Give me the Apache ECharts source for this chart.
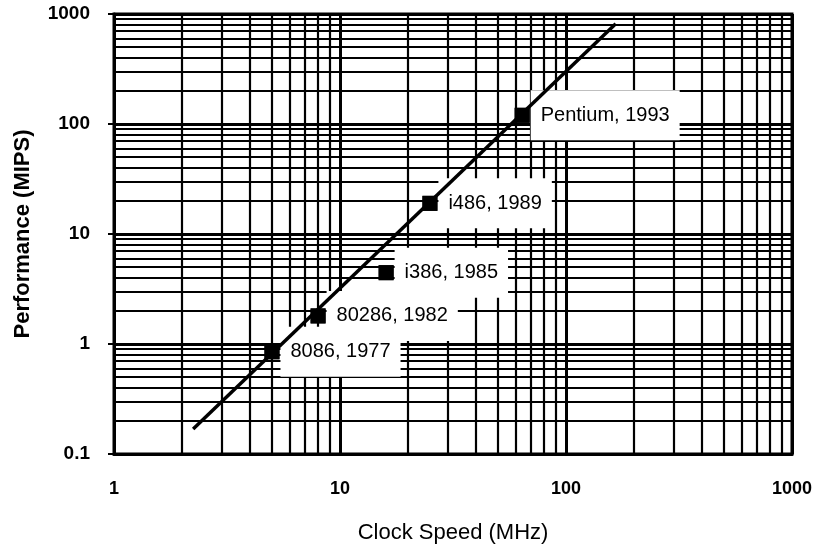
<!DOCTYPE html>
<html>
<head>
<meta charset="utf-8">
<script src="https://cdn.jsdelivr.net/npm/echarts@6/dist/echarts.min.js"></script>
<style>
html,body{margin:0;padding:0;background:#fff;}
#chart{width:815px;height:552px;}
</style>
</head>
<body>
<div id="chart"></div>
<script>
// ---- data ----
const chipLabels = ['8086, 1977', '80286, 1982', 'i386, 1985', 'i486, 1989', 'Pentium, 1993'];
const clockMHz   = [5, 8, 16, 25, 64];
const perfMIPS   = [0.85, 1.8, 4.45, 19, 120];

const trendClock = [2.24, 166];
const trendPerf  = [0.169, 815];

const xTickLabels = [1, 10, 100, 1000];
const yTickLabels = [0.1, 1, 10, 100, 1000];

// grid-line values (log paper)
const xMinorGrid = [2, 3, 4, 5, 6, 7, 8, 9, 20, 30, 40, 50, 60, 70, 80, 90, 200, 300, 400, 500, 600, 700, 800, 900];
const yMinorGrid = [0.2, 0.3, 0.4, 0.5, 0.6, 0.7, 0.8, 0.9, 2, 3, 4, 5, 6, 7, 8, 9, 20, 30, 40, 50, 60, 70, 80, 90, 200, 300, 400, 500, 600, 700, 800, 900];

const FONT = "'Liberation Sans', Arial, Helvetica, sans-serif";

const gridLines = [];
xMinorGrid.forEach(v => gridLines.push({ xAxis: v, lineStyle: { width: 2.2 } }));
yMinorGrid.forEach(v => gridLines.push({ yAxis: v, lineStyle: { width: 2.2 } }));
xTickLabels.forEach(v => gridLines.push({ xAxis: v, lineStyle: { width: 3 } }));
yTickLabels.forEach(v => gridLines.push({ yAxis: v, lineStyle: { width: 3 } }));

const chipPoints = clockMHz.map((x, i) => ({ value: [x, perfMIPS[i]], name: chipLabels[i] }));
const trendPoints = trendClock.map((x, i) => [x, trendPerf[i]]);

const chart = echarts.init(document.getElementById('chart'), null, { renderer: 'canvas' });
chart.setOption({
  animation: false,
  backgroundColor: '#fff',
  grid: {
    left: 114, right: 22, top: 14, bottom: 98,
    show: true, borderColor: '#000', borderWidth: 3, backgroundColor: '#fff'
  },
  xAxis: {
    type: 'log', logBase: 10, min: 1, max: 1000,
    name: 'Clock Speed (MHz)', nameLocation: 'middle', nameGap: 68,
    nameTextStyle: { fontFamily: FONT, fontSize: 22, color: '#000' },
    axisLine: { show: true, lineStyle: { color: '#000', width: 3 } },
    axisTick: { show: false },
    splitLine: { show: false },
    minorTick: { show: false },
    axisLabel: {
      fontFamily: FONT, fontSize: 18, fontWeight: 'bold', color: '#000', margin: 26,
      formatter: v => String(v)
    }
  },
  yAxis: {
    type: 'log', logBase: 10, min: 0.1, max: 1000,
    name: 'Performance (MIPS)', nameLocation: 'middle', nameGap: 80,
    nameTextStyle: { fontFamily: FONT, fontSize: 22, fontWeight: 'bold', color: '#000' },
    axisLine: { show: true, lineStyle: { color: '#000', width: 3 } },
    axisTick: { show: true, length: 6, lineStyle: { color: '#000', width: 2 } },
    splitLine: { show: false },
    axisLabel: {
      fontFamily: FONT, fontSize: 19, fontWeight: 'bold', color: '#000', margin: 24,
      formatter: v => (v < 1 ? String(Math.round(v * 10) / 10) : String(Math.round(v)))
    }
  },
  series: [
    {
      name: 'grid', type: 'line', data: [], z: 1, silent: true,
      markLine: {
        z: 1, silent: true, symbol: ['none', 'none'], animation: false,
        label: { show: false },
        emphasis: { disabled: true },
        lineStyle: { color: '#000', type: 'solid', width: 2 },
        data: gridLines
      }
    },
    {
      name: 'labels', type: 'scatter', z: 3, data: chipPoints,
      symbol: 'rect', symbolSize: 15, itemStyle: { color: '#000', opacity: 1 },
      emphasis: { disabled: true },
      label: {
        show: true, position: 'right', distance: 1,
        formatter: p => p.name,
        fontFamily: FONT, fontSize: 20, lineHeight: 20, color: '#000', opacity: 1,
        backgroundColor: '#fff', padding: [15, 10, 15, 10]
      }
    },
    {
      name: 'trend', type: 'line', z: 6, data: trendPoints,
      symbol: 'none', lineStyle: { color: '#000', width: 3.5 },
      emphasis: { disabled: true }
    },
    {
      name: 'chips', type: 'scatter', z: 7, data: chipPoints,
      symbol: 'rect', symbolSize: 15, itemStyle: { color: '#000', opacity: 1 },
      emphasis: { disabled: true }
    }
  ]
});
</script>
</body>
</html>
